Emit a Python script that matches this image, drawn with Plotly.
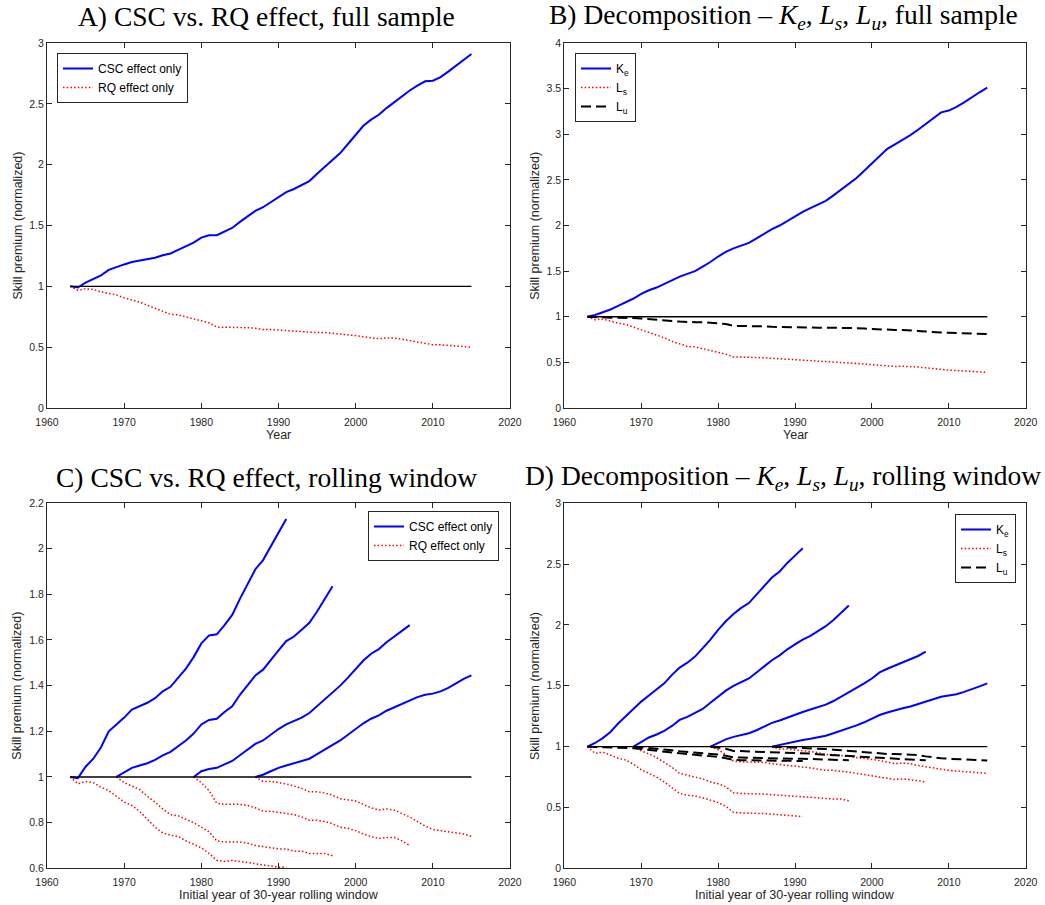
import plotly.graph_objects as go

# ---------------- data ----------------
years_full = list(range(1963, 2016))

# Panel A: full sample
csc_full = [1.00, 0.99, 1.03, 1.06, 1.09, 1.135, 1.16, 1.18, 1.20, 1.21,
            1.22, 1.235, 1.255, 1.27, 1.30, 1.33, 1.36, 1.40, 1.42, 1.42,
            1.45, 1.48, 1.53, 1.575, 1.62, 1.65, 1.69, 1.73, 1.775, 1.80,
            1.835, 1.865, 1.925, 1.98, 2.04, 2.095, 2.17, 2.245, 2.32, 2.37,
            2.41, 2.465, 2.515, 2.56, 2.61, 2.65, 2.685, 2.69, 2.72, 2.765,
            2.815, 2.86, 2.91]
rq_full = [1.00, 0.967, 0.98, 0.975, 0.955, 0.945, 0.93, 0.905, 0.89, 0.87,
           0.845, 0.82, 0.79, 0.77, 0.765, 0.75, 0.735, 0.72, 0.70, 0.665,
           0.665, 0.665, 0.665, 0.66, 0.655, 0.645, 0.645, 0.64, 0.64, 0.635,
           0.63, 0.62, 0.62, 0.62, 0.615, 0.605, 0.60, 0.595, 0.585, 0.575,
           0.57, 0.575, 0.575, 0.565, 0.555, 0.54, 0.53, 0.52, 0.52, 0.515,
           0.51, 0.505, 0.50]

# Panel B: decomposition, full sample
ke_full = [1.00, 1.02, 1.05, 1.08, 1.12, 1.16, 1.20, 1.25, 1.29, 1.32,
           1.36, 1.40, 1.44, 1.47, 1.50, 1.55, 1.60, 1.66, 1.71, 1.75,
           1.78, 1.81, 1.86, 1.91, 1.96, 2.00, 2.05, 2.10, 2.15, 2.19,
           2.23, 2.27, 2.33, 2.39, 2.45, 2.52, 2.60, 2.68, 2.77, 2.84,
           2.89, 2.94, 2.99, 3.05, 3.11, 3.18, 3.24, 3.26, 3.30, 3.35,
           3.41, 3.46, 3.51]
ls_full = [1.00, 0.967, 0.975, 0.95, 0.93, 0.915, 0.887, 0.86, 0.83, 0.80,
           0.77, 0.73, 0.70, 0.675, 0.67, 0.65, 0.63, 0.61, 0.59, 0.56,
           0.555, 0.555, 0.553, 0.55, 0.545, 0.54, 0.535, 0.53, 0.527, 0.522,
           0.517, 0.512, 0.51, 0.505, 0.50, 0.49, 0.483, 0.475, 0.467, 0.46,
           0.455, 0.458, 0.456, 0.448, 0.44, 0.43, 0.42, 0.415, 0.41, 0.405,
           0.40, 0.395, 0.39]
lu_full = [1.00, 0.995, 0.993, 0.99, 0.99, 0.99, 0.985, 0.98, 0.975, 0.967,
           0.96, 0.953, 0.947, 0.94, 0.94, 0.94, 0.935, 0.93, 0.92, 0.90,
           0.90, 0.90, 0.898, 0.895, 0.89, 0.887, 0.886, 0.885, 0.883, 0.88,
           0.88, 0.88, 0.88, 0.88, 0.878, 0.875, 0.87, 0.865, 0.86, 0.855,
           0.855, 0.855, 0.853, 0.845, 0.838, 0.83, 0.827, 0.825, 0.823, 0.82,
           0.817, 0.813, 0.81]

# Rolling windows: each window is 29 annual observations starting at these years
window_starts = [1963, 1969, 1979, 1987]
window_len = 29

# Panel C: CSC vs RQ, rolling window
csc_roll = [
    [1.00, 0.995, 1.045, 1.08, 1.13, 1.20, 1.23, 1.26, 1.295, 1.31,
     1.325, 1.345, 1.375, 1.395, 1.435, 1.475, 1.525, 1.585, 1.62, 1.625,
     1.665, 1.71, 1.78, 1.845, 1.91, 1.95, 2.01, 2.07, 2.13],
    [1.00, 1.02, 1.04, 1.05, 1.06, 1.075, 1.095, 1.11, 1.135, 1.16,
     1.19, 1.23, 1.25, 1.255, 1.285, 1.31, 1.36, 1.40, 1.445, 1.47,
     1.515, 1.555, 1.595, 1.615, 1.645, 1.675, 1.725, 1.78, 1.835],
    [1.00, 1.025, 1.035, 1.04, 1.055, 1.07, 1.095, 1.12, 1.145, 1.16,
     1.185, 1.21, 1.23, 1.245, 1.26, 1.28, 1.31, 1.34, 1.37, 1.40,
     1.435, 1.475, 1.51, 1.54, 1.56, 1.59, 1.615, 1.64, 1.665],
    [1.00, 1.01, 1.025, 1.04, 1.05, 1.06, 1.07, 1.08, 1.10, 1.12,
     1.14, 1.16, 1.185, 1.21, 1.235, 1.255, 1.27, 1.29, 1.305, 1.32,
     1.335, 1.35, 1.36, 1.365, 1.375, 1.39, 1.41, 1.43, 1.445],
]
rq_roll = [
    [1.00, 0.97, 0.98, 0.975, 0.955, 0.94, 0.915, 0.89, 0.875, 0.85,
     0.815, 0.78, 0.755, 0.745, 0.74, 0.72, 0.705, 0.69, 0.665, 0.635,
     0.63, 0.635, 0.63, 0.625, 0.62, 0.615, 0.61, 0.605, 0.605],
    [1.00, 0.975, 0.96, 0.945, 0.915, 0.89, 0.86, 0.835, 0.83, 0.815,
     0.80, 0.78, 0.76, 0.72, 0.715, 0.715, 0.715, 0.71, 0.70, 0.695,
     0.69, 0.685, 0.685, 0.675, 0.675, 0.665, 0.665, 0.665, 0.655],
    [1.00, 0.975, 0.94, 0.885, 0.88, 0.88, 0.88, 0.875, 0.865, 0.85,
     0.85, 0.845, 0.84, 0.835, 0.825, 0.81, 0.81, 0.805, 0.795, 0.78,
     0.775, 0.765, 0.75, 0.74, 0.73, 0.735, 0.735, 0.72, 0.70],
    [1.00, 0.98, 0.98, 0.975, 0.97, 0.96, 0.95, 0.935, 0.935, 0.93,
     0.92, 0.905, 0.90, 0.895, 0.88, 0.865, 0.855, 0.86, 0.855, 0.84,
     0.825, 0.805, 0.785, 0.77, 0.765, 0.76, 0.755, 0.75, 0.74],
]

# Panel D: decomposition, rolling window
ke_roll = [
    [1.00, 1.03, 1.07, 1.12, 1.19, 1.25, 1.31, 1.37, 1.42, 1.47,
     1.52, 1.59, 1.65, 1.69, 1.74, 1.81, 1.88, 1.96, 2.03, 2.09,
     2.14, 2.18, 2.25, 2.32, 2.39, 2.44, 2.51, 2.57, 2.63],
    [1.00, 1.04, 1.075, 1.10, 1.13, 1.17, 1.22, 1.245, 1.275, 1.31,
     1.36, 1.41, 1.46, 1.50, 1.53, 1.56, 1.61, 1.66, 1.71, 1.75,
     1.80, 1.84, 1.88, 1.91, 1.95, 1.99, 2.04, 2.10, 2.16],
    [1.00, 1.03, 1.06, 1.08, 1.095, 1.11, 1.135, 1.165, 1.195, 1.215,
     1.24, 1.265, 1.285, 1.305, 1.325, 1.345, 1.375, 1.41, 1.445, 1.48,
     1.52, 1.56, 1.61, 1.64, 1.665, 1.69, 1.715, 1.745, 1.78],
    [1.00, 1.015, 1.03, 1.045, 1.055, 1.065, 1.075, 1.09, 1.11, 1.13,
     1.15, 1.175, 1.20, 1.23, 1.26, 1.28, 1.30, 1.315, 1.33, 1.35,
     1.37, 1.39, 1.41, 1.42, 1.43, 1.45, 1.47, 1.495, 1.52],
]
ls_roll = [
    [1.00, 0.945, 0.955, 0.93, 0.905, 0.89, 0.855, 0.81, 0.78, 0.75,
     0.71, 0.66, 0.615, 0.60, 0.595, 0.58, 0.56, 0.54, 0.51, 0.46,
     0.455, 0.455, 0.455, 0.45, 0.445, 0.44, 0.435, 0.425, 0.425],
    [1.00, 0.965, 0.94, 0.91, 0.87, 0.83, 0.78, 0.765, 0.755, 0.735,
     0.71, 0.695, 0.67, 0.62, 0.615, 0.615, 0.615, 0.61, 0.605, 0.60,
     0.595, 0.59, 0.59, 0.585, 0.58, 0.575, 0.57, 0.57, 0.555],
    [1.00, 0.975, 0.935, 0.88, 0.875, 0.875, 0.875, 0.87, 0.86, 0.85,
     0.845, 0.84, 0.835, 0.825, 0.815, 0.805, 0.805, 0.80, 0.79, 0.78,
     0.77, 0.765, 0.75, 0.74, 0.73, 0.735, 0.73, 0.72, 0.71],
    [1.00, 0.98, 0.98, 0.975, 0.97, 0.96, 0.95, 0.935, 0.935, 0.93,
     0.92, 0.91, 0.905, 0.895, 0.885, 0.87, 0.86, 0.865, 0.86, 0.845,
     0.835, 0.82, 0.81, 0.805, 0.80, 0.795, 0.79, 0.785, 0.78],
]
lu_roll = [
    [1.00, 0.998, 0.996, 0.995, 0.993, 0.99, 0.987, 0.98, 0.972, 0.965,
     0.958, 0.952, 0.945, 0.94, 0.935, 0.93, 0.925, 0.915, 0.905, 0.89,
     0.889, 0.888, 0.887, 0.886, 0.885, 0.884, 0.883, 0.882, 0.882],
    [1.00, 0.995, 0.99, 0.985, 0.978, 0.97, 0.962, 0.957, 0.952, 0.947,
     0.942, 0.935, 0.925, 0.912, 0.91, 0.908, 0.906, 0.904, 0.902, 0.90,
     0.90, 0.90, 0.90, 0.899, 0.898, 0.896, 0.893, 0.891, 0.888],
    [1.00, 0.993, 0.983, 0.965, 0.963, 0.961, 0.959, 0.957, 0.955, 0.953,
     0.951, 0.95, 0.948, 0.943, 0.937, 0.933, 0.93, 0.927, 0.925, 0.92,
     0.915, 0.91, 0.905, 0.902, 0.90, 0.898, 0.895, 0.89, 0.888],
    [1.00, 0.998, 0.995, 0.993, 0.99, 0.987, 0.983, 0.98, 0.975, 0.97,
     0.965, 0.958, 0.952, 0.948, 0.943, 0.94, 0.94, 0.938, 0.935, 0.93,
     0.92, 0.91, 0.905, 0.90, 0.897, 0.894, 0.891, 0.889, 0.887],
]

x_ticks = [1960, 1970, 1980, 1990, 2000, 2010, 2020]
y_ticks_a = [0, 0.5, 1, 1.5, 2, 2.5, 3]
y_ticks_b = [0, 0.5, 1, 1.5, 2, 2.5, 3, 3.5, 4]
y_ticks_c = [0.6, 0.8, 1, 1.2, 1.4, 1.6, 1.8, 2, 2.2]
y_ticks_d = [0, 0.5, 1, 1.5, 2, 2.5, 3]

# ---------------- styling ----------------
W, H = 1045, 905
SANS = "Liberation Sans, Arial, sans-serif"
SERIF = "Liberation Serif, Times New Roman, serif"
AX = "#262626"
BLUE, RED, BLACK = "#0000ff", "#ff0000", "#000000"

# plot-area boxes in pixels: (left, right, top, bottom)
boxes = {
    1: (47, 510, 43, 408),
    2: (564.3, 1025.7, 43, 408),
    3: (47, 510, 503, 868.3),
    4: (564.3, 1025.7, 503.3, 868.3),
}


def px_x(v):
    return v / W


def px_y(v):
    return 1 - v / H


def tick_text(vals):
    return [("%g" % v) for v in vals]


fig = go.Figure()

solid = dict(color=BLUE, width=2)
dotted = dict(color=RED, width=1.5, dash="1.5px,2.2px")
dashed = dict(color=BLACK, width=2, dash="10px,5px")
ref = dict(color=BLACK, width=1.3)


def add_line(x, y, line, idx, name=None, legend=None, show=False):
    fig.add_trace(go.Scatter(
        x=x, y=y, mode="lines", line=line, name=name,
        xaxis="x" if idx == 1 else "x%d" % idx,
        yaxis="y" if idx == 1 else "y%d" % idx,
        legend=legend, showlegend=show, hoverinfo="skip"))


def add_ref(idx):
    add_line([years_full[0], years_full[-1]], [1, 1], ref, idx)


# Panel A
add_line(years_full, csc_full, solid, 1, "CSC effect only", "legend", True)
add_line(years_full, rq_full, dotted, 1, "RQ effect only", "legend", True)
add_ref(1)

# Panel B
add_line(years_full, ke_full, solid, 2, "K<sub>e</sub>", "legend2", True)
add_line(years_full, ls_full, dotted, 2, "L<sub>s</sub>", "legend2", True)
add_line(years_full, lu_full, dashed, 2, "L<sub>u</sub>", "legend2", True)
add_ref(2)

# Panel C
for k, start in enumerate(window_starts):
    yrs = list(range(start, start + window_len))
    add_line(yrs, csc_roll[k], solid, 3, "CSC effect only", "legend3", k == 0)
for k, start in enumerate(window_starts):
    yrs = list(range(start, start + window_len))
    add_line(yrs, rq_roll[k], dotted, 3, "RQ effect only", "legend3", k == 0)
add_ref(3)

# Panel D
for k, start in enumerate(window_starts):
    yrs = list(range(start, start + window_len))
    add_line(yrs, ke_roll[k], solid, 4, "K<sub>e</sub>", "legend4", k == 0)
for k, start in enumerate(window_starts):
    yrs = list(range(start, start + window_len))
    add_line(yrs, ls_roll[k], dotted, 4, "L<sub>s</sub>", "legend4", k == 0)
for k, start in enumerate(window_starts):
    yrs = list(range(start, start + window_len))
    add_line(yrs, lu_roll[k], dashed, 4, "L<sub>u</sub>", "legend4", k == 0)
add_ref(4)

axis_common = dict(
    showline=True, linecolor=AX, linewidth=1, mirror="ticks",
    ticks="inside", ticklen=5, tickwidth=1, tickcolor=AX,
    showgrid=False, zeroline=False, automargin=False,
    tickfont=dict(family=SANS, size=10.5, color=AX),
)

y_ranges = {1: ([0, 3], y_ticks_a), 2: ([0, 4], y_ticks_b),
            3: ([0.6, 2.2], y_ticks_c), 4: ([0, 3], y_ticks_d)}

layout = dict(
    width=W, height=H, margin=dict(l=0, r=0, t=0, b=0, pad=0),
    paper_bgcolor="white", plot_bgcolor="white",
)
for idx, (l, r, t, b) in boxes.items():
    xa = "xaxis" if idx == 1 else "xaxis%d" % idx
    ya = "yaxis" if idx == 1 else "yaxis%d" % idx
    anchor_x = "y" if idx == 1 else "y%d" % idx
    anchor_y = "x" if idx == 1 else "x%d" % idx
    yr, yt = y_ranges[idx]
    layout[xa] = dict(axis_common, domain=[px_x(l), px_x(r)], anchor=anchor_x,
                      range=[1960, 2020], tickvals=x_ticks,
                      ticktext=tick_text(x_ticks), ticklabelstandoff=4)
    layout[ya] = dict(axis_common, domain=[px_y(b), px_y(t)], anchor=anchor_y,
                      range=yr, tickvals=yt, ticktext=tick_text(yt))

legend_common = dict(
    bgcolor="white", bordercolor=AX, borderwidth=1,
    font=dict(family=SANS, size=12, color="#000000"),
    itemwidth=30, tracegroupgap=0,
)
layout["legend"] = dict(legend_common, x=px_x(57), y=px_y(53),
                        xanchor="left", yanchor="top")
layout["legend2"] = dict(legend_common, x=px_x(575), y=px_y(53),
                         xanchor="left", yanchor="top")
layout["legend3"] = dict(legend_common, x=px_x(499), y=px_y(511),
                         xanchor="right", yanchor="top")
layout["legend4"] = dict(legend_common, x=px_x(1016), y=px_y(514),
                         xanchor="right", yanchor="top")

fig.update_layout(**layout)

# Panel titles
titles = [
    ("A) CSC vs. RQ effect, full sample", 266, 17),
    ("B) Decomposition \u2013 <i>K<sub>e</sub></i>, <i>L<sub>s</sub></i>, "
     "<i>L<sub>u</sub></i>, full sample", 783, 17),
    ("C) CSC vs. RQ effect, rolling window", 266, 477),
    ("D) Decomposition \u2013 <i>K<sub>e</sub></i>, <i>L<sub>s</sub></i>, "
     "<i>L<sub>u</sub></i>, rolling window", 783, 477),
]
for text, cx, cy in titles:
    fig.add_annotation(text=text, x=px_x(cx), y=px_y(cy), xref="paper",
                       yref="paper", xanchor="center", yanchor="middle",
                       showarrow=False,
                       font=dict(family=SERIF, size=27.5, color="#000000"))

# Axis titles
x_titles = ["Year", "Year", "Initial year of 30-year rolling window",
            "Initial year of 30-year rolling window"]
for idx, (l, r, t, b) in boxes.items():
    fig.add_annotation(text=x_titles[idx - 1], x=px_x((l + r) / 2),
                       y=px_y(b + 27), xref="paper", yref="paper",
                       xanchor="center", yanchor="middle", showarrow=False,
                       font=dict(family=SANS, size=12.5, color=AX))
    fig.add_annotation(text="Skill premium (normalized)", textangle=-90,
                       x=px_x(l - 30), y=px_y((t + b) / 2), xref="paper",
                       yref="paper", xanchor="center", yanchor="middle",
                       showarrow=False,
                       font=dict(family=SANS, size=12.5, color=AX))

fig.write_html("out.html")
